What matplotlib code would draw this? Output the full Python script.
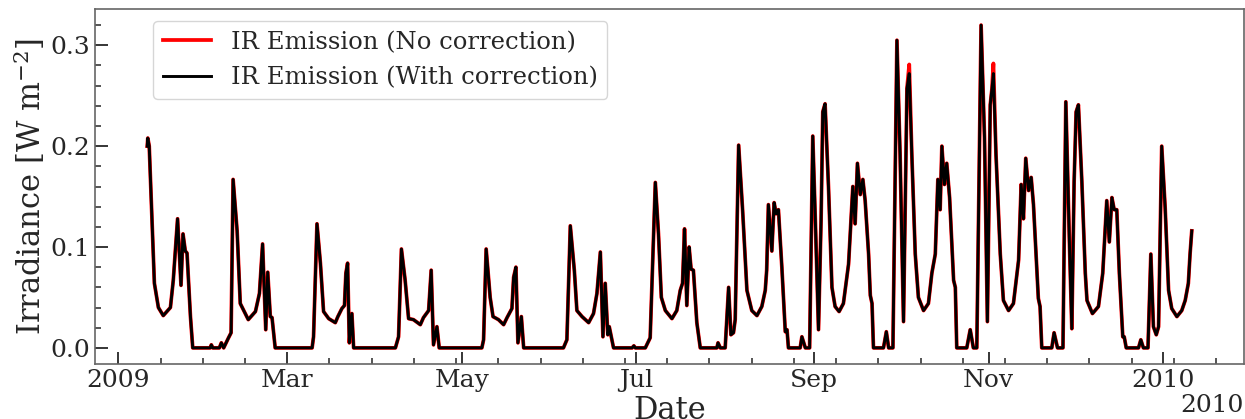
import numpy as np
import pandas as pd
import matplotlib
matplotlib.use("Agg")
import matplotlib.pyplot as plt
import matplotlib.dates as mdates
from matplotlib.ticker import AutoMinorLocator

plt.rcParams["font.family"] = ["DejaVu Serif"]
plt.rcParams["mathtext.fontset"] = "dejavuserif"

# Days since 2009-01-01 for each sample
day = [
    10.1, 10.3, 10.8, 12.6, 14.0, 15.7, 18.2, 19.2, 20.7, 21.9, 22.6, 23.4, 24.0, 25.2, 26.0,
    32.1, 32.5, 33.0, 35.3, 36.0, 36.8, 38.5, 39.4, 40.1, 41.5, 42.6, 45.4, 47.9, 49.3, 50.4,
    51.5, 52.2, 53.1, 53.7, 54.8, 67.7, 68.2, 69.4, 70.6, 71.7, 73.5, 75.8, 76.7, 78.1, 79.0,
    79.5, 80.1, 80.7, 81.6, 82.2, 96.8, 97.9, 98.9, 100.2, 101.4, 103.1, 105.5, 106.6, 108.4,
    109.3, 110.1, 111.3, 112.1, 127.0, 127.6, 128.5, 129.9, 130.9, 132.8, 134.6, 135.8, 137.5,
    138.1, 138.9, 139.6, 140.8, 141.6, 155.5, 156.7, 157.9, 159.3, 160.2, 162.0, 164.3, 166.0,
    167.2, 168.4, 169.3, 170.1, 171.0, 171.5, 173.0, 179.5, 180.1, 180.6, 184.1, 185.8, 187.6,
    188.7, 189.7, 191.1, 193.4, 195.1, 196.3, 197.1, 197.8, 198.6, 199.4, 200.1, 200.9, 202.1,
    203.3, 209.1, 209.5, 210.3, 212.0, 213.2, 214.0, 214.9, 215.5, 216.7, 218.1, 219.6, 221.3,
    223.1, 224.8, 226.0, 226.5, 227.1, 228.3, 229.1, 229.8, 230.6, 231.8, 233.0, 233.6, 234.1,
    238.2, 238.8, 240.0, 241.5, 242.6, 243.5, 244.6, 245.5, 246.1, 246.9, 248.1, 249.3, 250.4,
    251.8, 253.3, 255.1, 256.6, 257.4, 258.2, 259.2, 260.1, 260.9, 262.1, 262.7, 263.3, 263.8,
    267.3, 268.3, 269.1, 270.6, 272.0, 273.1, 274.3, 275.5, 276.3, 277.2, 278.4, 279.5, 281.3,
    283.0, 284.2, 285.4, 286.3, 287.1, 287.7, 288.6, 289.4, 290.4, 291.8, 292.4, 292.9, 296.4,
    297.6, 298.7, 299.9, 301.4, 302.6, 303.6, 304.6, 305.2, 305.7, 306.6, 308.1, 309.2, 311.0,
    312.7, 314.5, 315.4, 316.2, 317.0, 318.0, 318.9, 319.7, 321.4, 322.0, 322.6, 326.1, 326.9,
    328.1, 330.0, 331.0, 332.3, 333.1, 333.9, 334.6, 335.4, 336.6, 337.8, 338.4, 340.3, 342.4,
    343.9, 344.7, 345.3, 346.2, 347.1, 347.9, 348.8, 349.7, 350.9, 351.4, 352.1, 356.4, 357.2,
    358.1, 359.7, 360.7, 361.6, 362.6, 363.4, 364.5, 365.7, 366.9, 368.0, 369.8, 371.5, 372.7,
    373.8, 374.4, 375.0,
]

# IR emission with correction [W m^-2]
ir_with_correction = [
    0.200, 0.208, 0.200, 0.064, 0.040, 0.032, 0.040, 0.067, 0.128, 0.062, 0.113, 0.096, 0.094, 0.031, 0.000,
    0.000, 0.003, 0.000, 0.000, 0.005, 0.000, 0.010, 0.015, 0.167, 0.116, 0.044, 0.028, 0.036, 0.054, 0.103,
    0.018, 0.075, 0.031, 0.030, 0.000, 0.000, 0.011, 0.123, 0.084, 0.036, 0.029, 0.025, 0.031, 0.039, 0.042,
    0.074, 0.084, 0.005, 0.034, 0.000, 0.000, 0.011, 0.098, 0.067, 0.029, 0.028, 0.023, 0.030, 0.037,
    0.077, 0.003, 0.021, 0.000, 0.000, 0.008, 0.098, 0.050, 0.031, 0.028, 0.023, 0.030, 0.039,
    0.070, 0.080, 0.005, 0.031, 0.000, 0.000, 0.008, 0.121, 0.077, 0.037, 0.031, 0.025, 0.034,
    0.054, 0.095, 0.011, 0.064, 0.013, 0.021, 0.000, 0.000, 0.002, 0.000, 0.000, 0.010, 0.164,
    0.113, 0.050, 0.037, 0.029, 0.037, 0.057, 0.064, 0.118, 0.042, 0.100, 0.078, 0.077, 0.025,
    0.000, 0.000, 0.005, 0.000, 0.000, 0.060, 0.013, 0.015, 0.028, 0.201, 0.136, 0.057, 0.037,
    0.032, 0.041, 0.057, 0.077, 0.142, 0.096, 0.144, 0.133, 0.137, 0.080, 0.016, 0.018, 0.000,
    0.000, 0.011, 0.000, 0.000, 0.210, 0.126, 0.018, 0.126, 0.234, 0.242, 0.159, 0.060, 0.041,
    0.036, 0.044, 0.083, 0.160, 0.123, 0.183, 0.152, 0.167, 0.146, 0.093, 0.052, 0.044, 0.000,
    0.000, 0.016, 0.000, 0.000, 0.305, 0.192, 0.026, 0.257, 0.272, 0.192, 0.093, 0.050, 0.037,
    0.044, 0.074, 0.093, 0.167, 0.137, 0.200, 0.162, 0.183, 0.149, 0.067, 0.060, 0.000, 0.000,
    0.018, 0.000, 0.000, 0.320, 0.208, 0.026, 0.241, 0.257, 0.272, 0.192, 0.093, 0.047, 0.037,
    0.044, 0.087, 0.162, 0.128, 0.188, 0.156, 0.169, 0.142, 0.049, 0.041, 0.000, 0.000, 0.015,
    0.000, 0.000, 0.244, 0.100, 0.019, 0.165, 0.234, 0.241, 0.165, 0.074, 0.047, 0.034, 0.041,
    0.074, 0.116, 0.146, 0.105, 0.149, 0.137, 0.137, 0.074, 0.011, 0.011, 0.000, 0.000, 0.008,
    0.000, 0.000, 0.093, 0.021, 0.013, 0.021, 0.200, 0.139, 0.057, 0.039, 0.031, 0.037, 0.047,
    0.064, 0.093, 0.116,
]

# IR emission without correction [W m^-2]
ir_no_correction = [
    0.200, 0.208, 0.200, 0.064, 0.040, 0.032, 0.040, 0.067, 0.128, 0.062, 0.113, 0.096, 0.094, 0.031, 0.000,
    0.000, 0.003, 0.000, 0.000, 0.005, 0.000, 0.010, 0.015, 0.167, 0.116, 0.044, 0.028, 0.036, 0.054, 0.103,
    0.018, 0.075, 0.031, 0.030, 0.000, 0.000, 0.011, 0.123, 0.084, 0.036, 0.029, 0.025, 0.031, 0.039, 0.042,
    0.074, 0.084, 0.005, 0.034, 0.000, 0.000, 0.011, 0.098, 0.067, 0.029, 0.028, 0.023, 0.030, 0.037,
    0.077, 0.003, 0.021, 0.000, 0.000, 0.008, 0.098, 0.050, 0.031, 0.028, 0.023, 0.030, 0.039,
    0.070, 0.080, 0.005, 0.031, 0.000, 0.000, 0.008, 0.121, 0.077, 0.037, 0.031, 0.025, 0.034,
    0.054, 0.095, 0.011, 0.064, 0.013, 0.021, 0.000, 0.000, 0.002, 0.000, 0.000, 0.010, 0.164,
    0.113, 0.050, 0.037, 0.029, 0.037, 0.057, 0.064, 0.118, 0.042, 0.100, 0.078, 0.077, 0.025,
    0.000, 0.000, 0.005, 0.000, 0.000, 0.060, 0.013, 0.015, 0.028, 0.201, 0.136, 0.057, 0.037,
    0.032, 0.041, 0.057, 0.077, 0.142, 0.096, 0.144, 0.133, 0.137, 0.080, 0.016, 0.018, 0.000,
    0.000, 0.011, 0.000, 0.000, 0.210, 0.126, 0.018, 0.126, 0.234, 0.242, 0.159, 0.060, 0.041,
    0.036, 0.044, 0.083, 0.160, 0.123, 0.183, 0.152, 0.167, 0.146, 0.093, 0.052, 0.044, 0.000,
    0.000, 0.016, 0.000, 0.000, 0.305, 0.192, 0.026, 0.257, 0.281, 0.192, 0.093, 0.050, 0.037,
    0.044, 0.074, 0.093, 0.167, 0.137, 0.200, 0.162, 0.183, 0.149, 0.067, 0.060, 0.000, 0.000,
    0.018, 0.000, 0.000, 0.320, 0.208, 0.026, 0.241, 0.257, 0.282, 0.192, 0.093, 0.047, 0.037,
    0.044, 0.087, 0.162, 0.128, 0.188, 0.156, 0.169, 0.142, 0.049, 0.041, 0.000, 0.000, 0.015,
    0.000, 0.000, 0.244, 0.100, 0.019, 0.165, 0.234, 0.241, 0.165, 0.074, 0.047, 0.034, 0.041,
    0.074, 0.116, 0.146, 0.105, 0.149, 0.137, 0.137, 0.074, 0.011, 0.011, 0.000, 0.000, 0.008,
    0.000, 0.000, 0.093, 0.021, 0.013, 0.021, 0.200, 0.139, 0.057, 0.039, 0.031, 0.037, 0.047,
    0.064, 0.093, 0.116,
]

series_labels = ["IR Emission (No correction)", "IR Emission (With correction)"]

dates = pd.Timestamp("2009-01-01") + pd.to_timedelta(np.asarray(day), unit="D")

fig = plt.figure(figsize=(12.45, 4.19), dpi=100)
ax = fig.add_axes([95 / 1245, 1 - 364 / 419, 1149 / 1245, 355 / 419])

ax.plot(dates, ir_no_correction, color="red", lw=2.7, label=series_labels[0],
        solid_joinstyle="round")
ax.plot(dates, ir_with_correction, color="black", lw=2.1, label=series_labels[1],
        solid_joinstyle="round")

locator = mdates.MonthLocator(bymonth=[1, 3, 5, 7, 9, 11])
ax.xaxis.set_major_locator(locator)
ax.xaxis.set_major_formatter(mdates.ConciseDateFormatter(locator))
ax.xaxis.set_minor_locator(AutoMinorLocator())
ax.yaxis.set_minor_locator(AutoMinorLocator())

text_color = "#262626"
ax.tick_params(which="both", direction="in", colors=text_color, labelsize=18)
ax.tick_params(which="major", length=9, width=1.3)
ax.tick_params(which="minor", length=4.5, width=1.1)
for sp in ax.spines.values():
    sp.set_color("#666666")
    sp.set_linewidth(1.2)

# year offset below the date tick labels
ax.text(1.0, -0.085, str(dates[-1].year), transform=ax.transAxes, ha="right",
        va="top", fontsize=18, color=text_color)

ax.set_xlabel("Date", fontsize=22, color=text_color, labelpad=2)
ax.set_ylabel("Irradiance [W m$^{-2}$]", fontsize=22, color=text_color, labelpad=2)

leg = ax.legend(loc="upper left", bbox_to_anchor=(0.04, 1.0), fontsize=17.5,
                handlelength=2.0, labelcolor=text_color)

fig.savefig("out.png", dpi=100)
